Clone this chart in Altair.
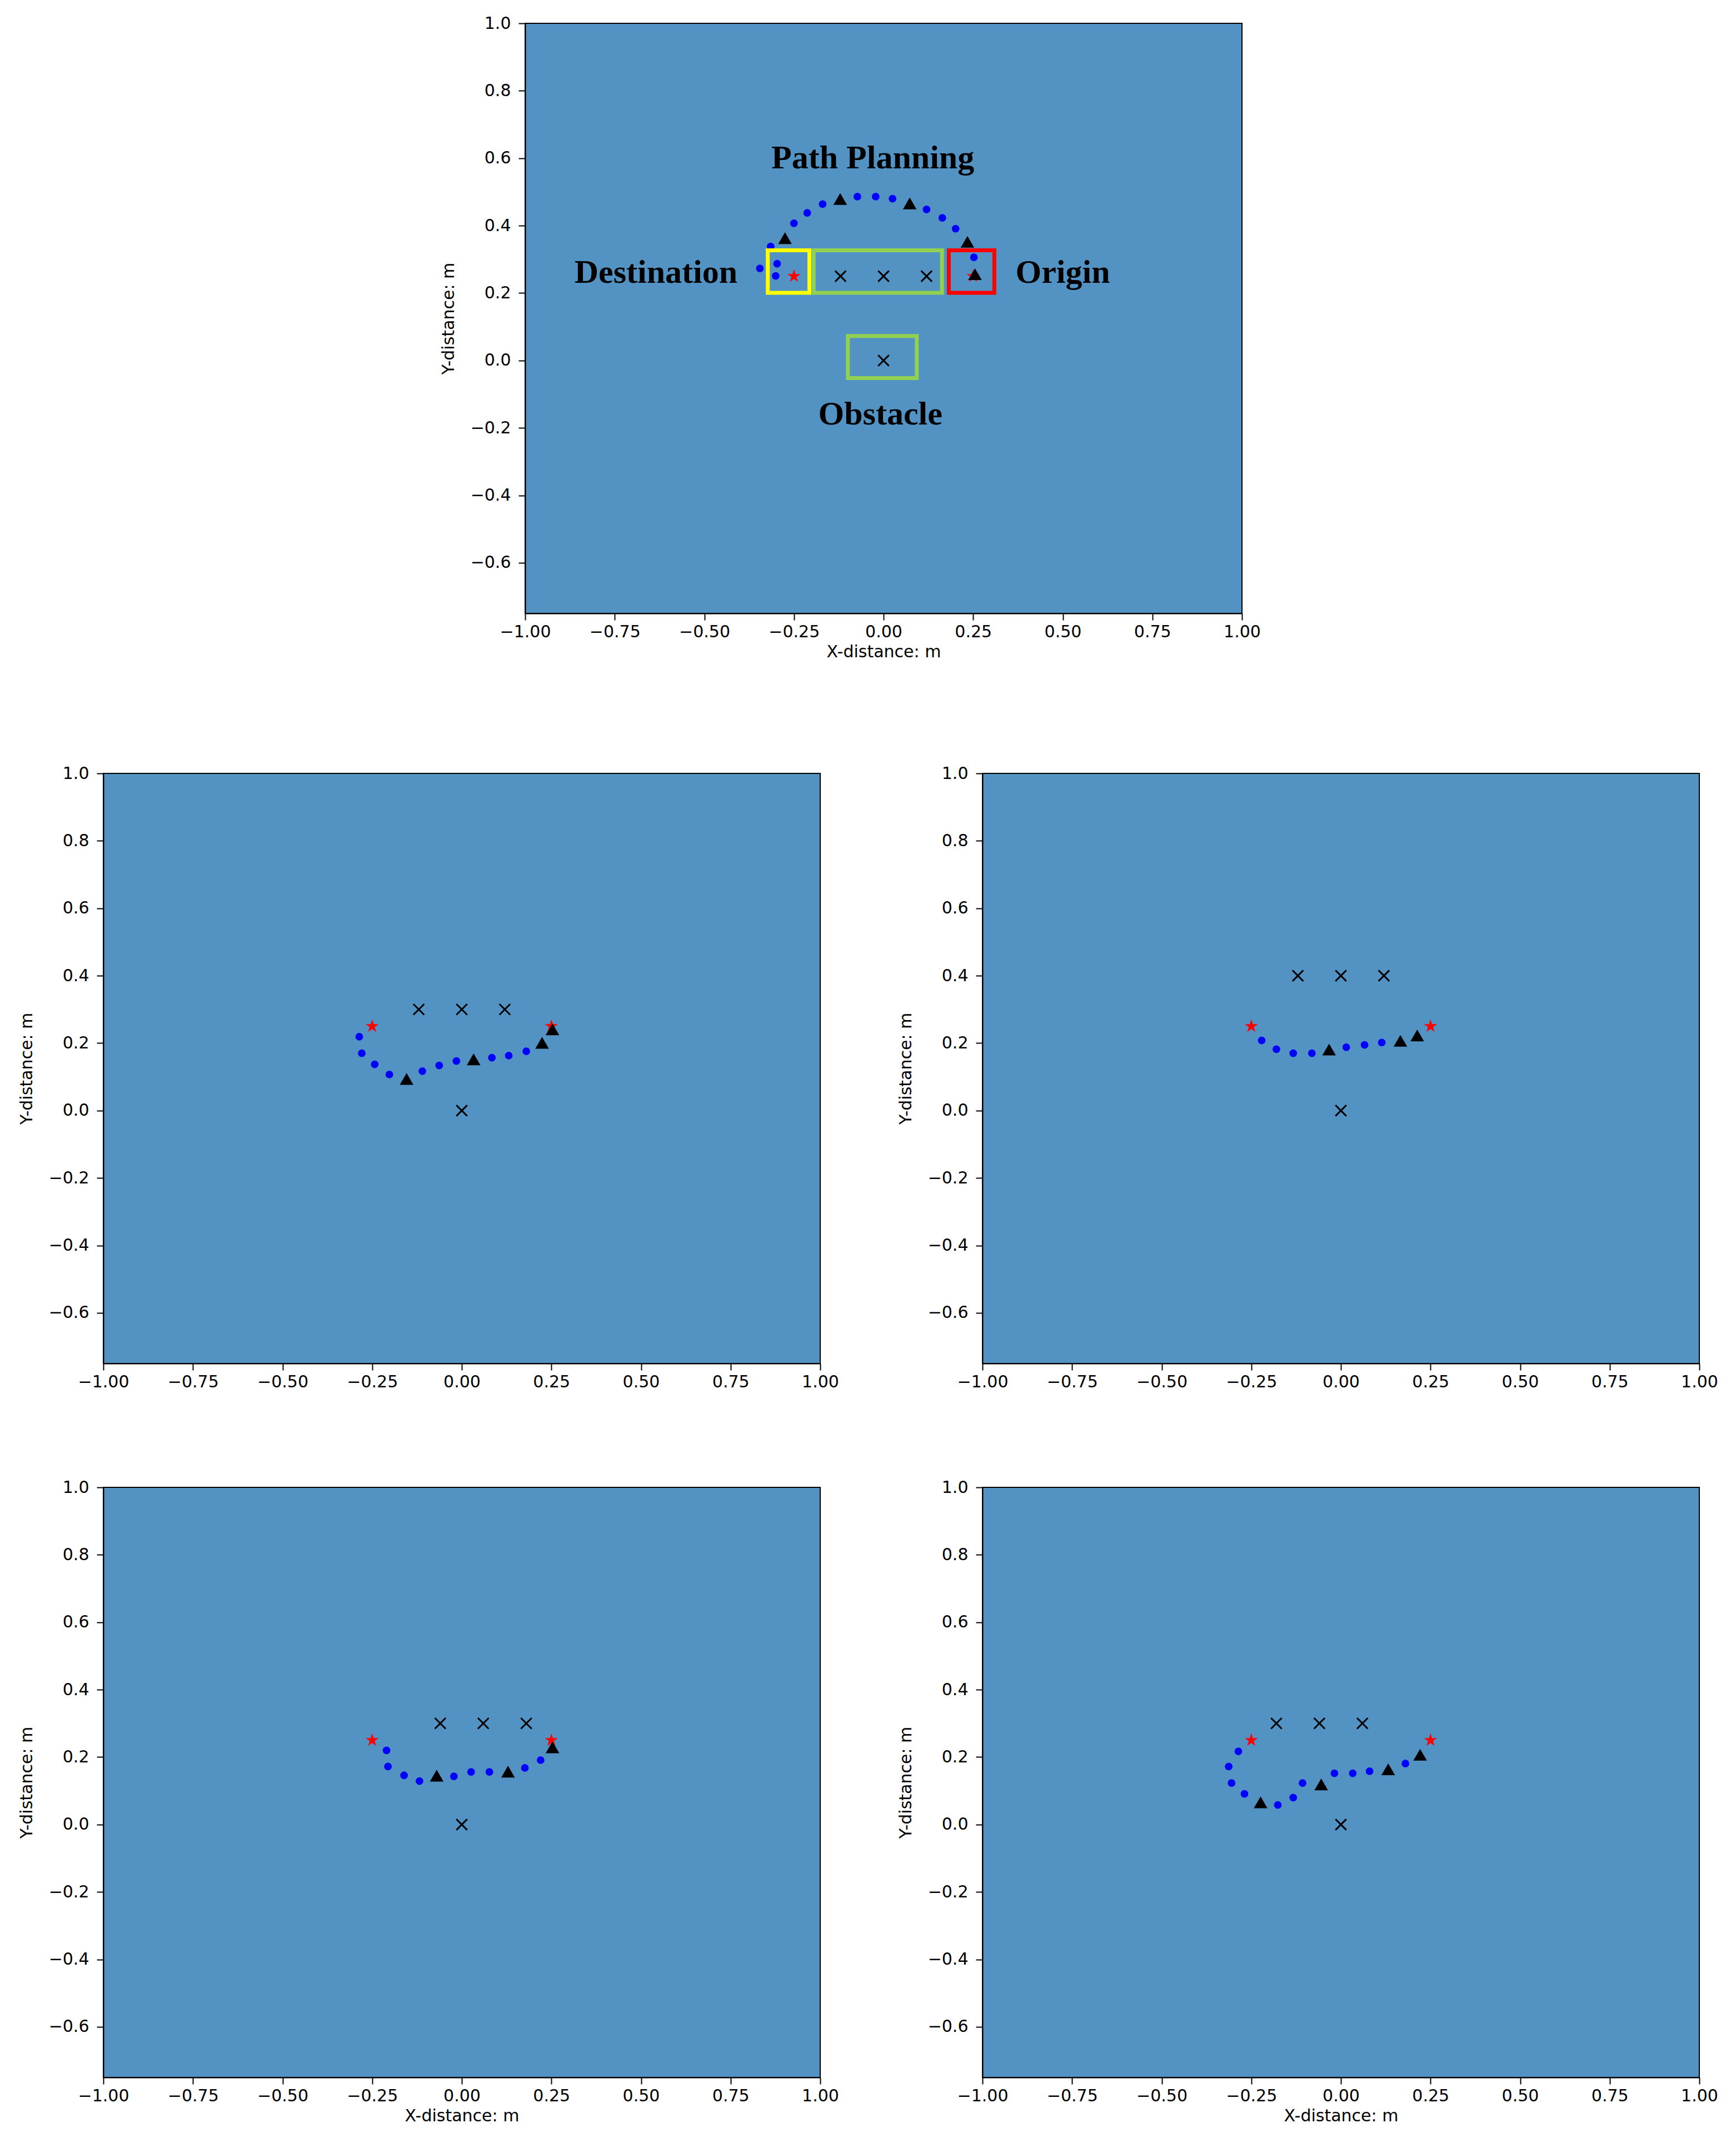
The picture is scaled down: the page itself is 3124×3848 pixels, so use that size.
import altair as alt
import pandas as pd

BG = "#5293C4"
X_TICKS = [-1.0, -0.75, -0.5, -0.25, 0.0, 0.25, 0.5, 0.75, 1.0]
Y_TICKS = [-0.6, -0.4, -0.2, 0.0, 0.2, 0.4, 0.6, 0.8, 1.0]
X_DOMAIN = [-1.0, 1.0]
Y_DOMAIN = [-0.75, 1.0]

STAR_X = [-0.25, 0.25]
STAR_Y = [0.25, 0.25]

# Top panel (annotated)
A_DOT_X = [-0.345, -0.315, -0.297, -0.301, -0.250, -0.213, -0.170, -0.073, -0.022, 0.025, 0.120, 0.164, 0.201, 0.252]
A_DOT_Y = [0.273, 0.338, 0.287, 0.251, 0.407, 0.438, 0.464, 0.486, 0.486, 0.480, 0.448, 0.423, 0.391, 0.306]
A_TRI_X = [-0.275, -0.121, 0.073, 0.234, 0.255]
A_TRI_Y = [0.363, 0.479, 0.466, 0.352, 0.256]
A_OBS_X = [-0.12, 0.0, 0.12, 0.0]
A_OBS_Y = [0.25, 0.25, 0.25, 0.0]

# Middle left
B_DOT_X = [-0.286, -0.279, -0.243, -0.202, -0.110, -0.063, -0.015, 0.084, 0.131, 0.180]
B_DOT_Y = [0.219, 0.170, 0.137, 0.107, 0.117, 0.134, 0.147, 0.157, 0.163, 0.176]
B_TRI_X = [-0.154, 0.033, 0.224, 0.253]
B_TRI_Y = [0.094, 0.152, 0.201, 0.241]
B_OBS_X = [-0.12, 0.0, 0.12, 0.0]
B_OBS_Y = [0.3, 0.3, 0.3, 0.0]

# Middle right
C_DOT_X = [-0.221, -0.180, -0.133, -0.081, 0.015, 0.066, 0.114]
C_DOT_Y = [0.208, 0.182, 0.170, 0.170, 0.188, 0.195, 0.202]
C_TRI_X = [-0.033, 0.166, 0.213]
C_TRI_Y = [0.181, 0.207, 0.223]
C_OBS_X = [-0.12, 0.0, 0.12, 0.0]
C_OBS_Y = [0.4, 0.4, 0.4, 0.0]

# Bottom left
D_DOT_X = [-0.210, -0.206, -0.161, -0.118, -0.022, 0.026, 0.077, 0.176, 0.220]
D_DOT_Y = [0.220, 0.172, 0.146, 0.129, 0.143, 0.156, 0.156, 0.168, 0.191]
D_TRI_X = [-0.070, 0.129, 0.253]
D_TRI_Y = [0.145, 0.157, 0.229]
D_OBS_X = [-0.06, 0.06, 0.18, 0.0]
D_OBS_Y = [0.3, 0.3, 0.3, 0.0]

# Bottom right
E_DOT_X = [-0.286, -0.313, -0.305, -0.269, -0.176, -0.133, -0.107, -0.018, 0.033, 0.080, 0.180]
E_DOT_Y = [0.217, 0.172, 0.123, 0.091, 0.058, 0.080, 0.123, 0.152, 0.152, 0.158, 0.181]
E_TRI_X = [-0.224, -0.055, 0.132, 0.221]
E_TRI_Y = [0.066, 0.119, 0.164, 0.207]
E_OBS_X = [-0.18, -0.06, 0.06, 0.0]
E_OBS_Y = [0.3, 0.3, 0.3, 0.0]

# Annotations of the top panel
LABEL_TEXT = ["Path Planning", "Destination", "Origin", "Obstacle"]
LABEL_X = [-0.03, -0.635, 0.50, -0.009]
LABEL_Y = [0.599, 0.26, 0.26, -0.16]
BOX_X1 = [-0.323, -0.195, 0.182, -0.0996]
BOX_X2 = [-0.207, 0.163, 0.309, 0.0927]
BOX_Y1 = [0.201, 0.201, 0.201, -0.052]
BOX_Y2 = [0.327, 0.327, 0.327, 0.0725]
BOX_COLOR = ["#FFFF00", "#92D050", "#FF0000", "#92D050"]

STAR_PATH = ("M0,-1L0.2245,-0.309L0.951,-0.309L0.363,0.118L0.588,0.809L0,0.382"
             "L-0.588,0.809L-0.363,0.118L-0.951,-0.309L-0.2245,-0.309Z")
X_PATH = "M-1,-1L1,1M-1,1L1,-1"

W, H = 1290, 1062


def xenc(show_title):
    kw = dict(scale=alt.Scale(domain=X_DOMAIN, nice=False, zero=False),
              axis=alt.Axis(values=X_TICKS, format=".2f", labelFlush=False,
                            labelOverlap=False, grid=False))
    if show_title:
        return alt.X("x:Q", title="X-distance: m", **kw)
    return alt.X("x:Q", title=None, **kw)


def yenc():
    return alt.Y("y:Q", title="Y-distance: m",
                 scale=alt.Scale(domain=Y_DOMAIN, nice=False, zero=False),
                 axis=alt.Axis(values=Y_TICKS, format=".1f", labelFlush=False,
                               labelOverlap=False, grid=False))


def panel(dx, dy, tx, ty, ox, oy, show_x_title, annotate=False):
    stars = alt.Chart(pd.DataFrame({"x": STAR_X, "y": STAR_Y})).mark_point(
        shape=STAR_PATH, filled=True, color="#FF0000", size=620, opacity=1
    ).encode(x=xenc(show_x_title), y=yenc())
    obs = alt.Chart(pd.DataFrame({"x": ox, "y": oy})).mark_point(
        shape=X_PATH, filled=False, color="black", size=380, strokeWidth=3, opacity=1
    ).encode(x=xenc(show_x_title), y=yenc())
    dots = alt.Chart(pd.DataFrame({"x": dx, "y": dy})).mark_point(
        shape="circle", filled=True, color="#0000FF", size=190, opacity=1
    ).encode(x=xenc(show_x_title), y=yenc())
    tris = alt.Chart(pd.DataFrame({"x": tx, "y": ty})).mark_point(
        shape="triangle-up", filled=True, color="black", size=600, opacity=1
    ).encode(x=xenc(show_x_title), y=yenc())
    layers = [stars, obs, dots, tris]
    if annotate:
        boxes = alt.Chart(pd.DataFrame({"x": BOX_X1, "x2": BOX_X2, "y": BOX_Y1,
                                        "y2": BOX_Y2, "c": BOX_COLOR})).mark_rect(
            fillOpacity=0, strokeWidth=7
        ).encode(x=xenc(show_x_title), x2="x2:Q", y=yenc(), y2="y2:Q",
                 stroke=alt.Stroke("c:N", scale=None))
        texts = alt.Chart(pd.DataFrame({"x": LABEL_X, "y": LABEL_Y, "t": LABEL_TEXT})).mark_text(
            font="Liberation Serif", fontWeight="bold", fontSize=60, color="black",
            align="center", baseline="middle"
        ).encode(x=xenc(show_x_title), y=yenc(), text="t:N")
        layers += [boxes, texts]
    return alt.layer(*layers).properties(
        width=W, height=H,
        view=alt.ViewBackground(fill=BG, stroke="black", strokeWidth=2, strokeOpacity=1)
    )


spacer = alt.Chart(pd.DataFrame({"x": [0.0]})).mark_point(opacity=0).encode(
    x=alt.X("x:Q", axis=None), y=alt.Y("x:Q", axis=None)
).properties(width=605, height=20, view=alt.ViewBackground(fill="white", strokeOpacity=0))

top = panel(A_DOT_X, A_DOT_Y, A_TRI_X, A_TRI_Y, A_OBS_X, A_OBS_Y, True, annotate=True)
ml = panel(B_DOT_X, B_DOT_Y, B_TRI_X, B_TRI_Y, B_OBS_X, B_OBS_Y, False)
mr = panel(C_DOT_X, C_DOT_Y, C_TRI_X, C_TRI_Y, C_OBS_X, C_OBS_Y, False)
bl = panel(D_DOT_X, D_DOT_Y, D_TRI_X, D_TRI_Y, D_OBS_X, D_OBS_Y, True)
br = panel(E_DOT_X, E_DOT_Y, E_TRI_X, E_TRI_Y, E_OBS_X, E_OBS_Y, True)

row1 = alt.hconcat(spacer, top, spacing=0)
row2 = alt.hconcat(ml, mr, spacing=103)
row3 = alt.hconcat(bl, br, spacing=103)
lower = alt.vconcat(row2, row3, spacing=158)

chart = alt.vconcat(row1, lower, spacing=187).properties(
    padding={"left": 24, "top": 18, "right": 10, "bottom": 10},
    background="white"
).configure_view(strokeOpacity=0).configure_axis(
    labelFont="DejaVu Sans", titleFont="DejaVu Sans", labelFontSize=30, titleFontSize=30,
    titleFontWeight="normal", labelColor="black", titleColor="black",
    domainColor="black", domainWidth=2, tickColor="black", tickWidth=2, tickSize=12,
).configure_axisX(labelPadding=6, titlePadding=6).configure_axisY(
    labelPadding=14, titlePadding=24
)

chart.save("out.html", embed_options={"renderer": "svg", "actions": False})
